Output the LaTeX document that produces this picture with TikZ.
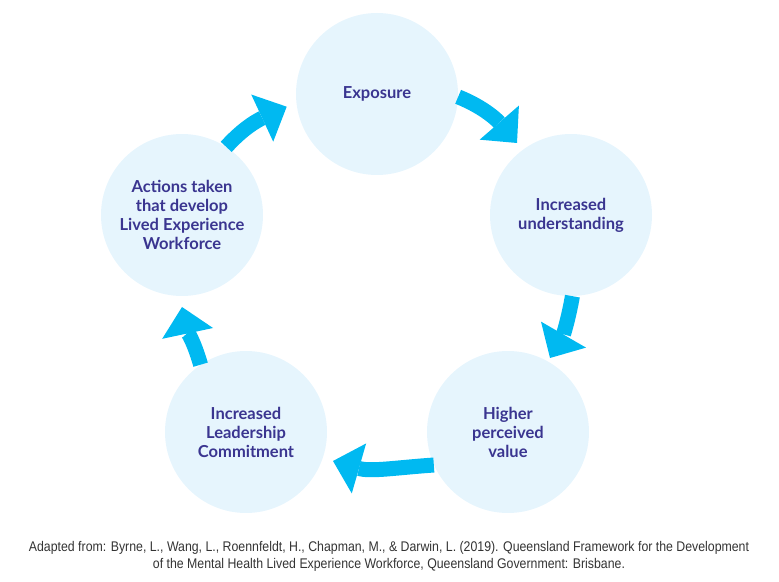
\documentclass[tikz,border=0pt]{standalone}
\usepackage{fontspec}
\setmainfont{Lato}
\newfontfamily\capfont{Liberation Sans}[FakeStretch=0.88]
\usetikzlibrary{arrows.meta}
\definecolor{cyanarrow}{HTML}{00B9F1}
\definecolor{circfill}{HTML}{E6F5FD}
\definecolor{txtcol}{HTML}{3A3590}
\definecolor{capcol}{HTML}{333333}
\begin{document}
\begin{tikzpicture}[x=1pt,y=1pt,
  stage/.style={circle, fill=circfill, minimum size=162pt, inner sep=0pt, align=center, text=txtcol, font=\fontsize{16.5}{19}\selectfont\bfseries},
  cyc/.style={line width=15pt, draw=cyanarrow, -{Triangle[length=27pt,width=52pt,line width=0pt]}}]
\useasboundingbox (0,0) rectangle (779,581);
\node[stage] (E) at (377,487) {Exposure};
\node[stage] (U) at (571,366) {Increased\\understanding};
\node[stage] (H) at (508,149) {Higher\\perceived\\value};
\node[stage] (L) at (246,149) {Increased\\Leadership\\Commitment};
\node[stage] (A) at (182,366) {Actions taken\\that develop\\Lived Experience\\Workforce};
\coordinate (t1) at (517,438);
\coordinate (t2) at (550,223);
\coordinate (t3) at (333,120);
\coordinate (t4) at (182,274);
\coordinate (t5) at (286.7,474.3);
\draw[cyc] (E.-2) to[out=-22,in=131] (t1);
\draw[cyc] (U.-89) to[out=-100,in=60] (t2);
\draw[cyc] (H.204) to[out=184,in=-16] (t3);
\draw[cyc] (L.124) to[out=106,in=-78] (t4);
\draw[cyc] (A.57) to[out=48,in=205] (t5);
\node[font=\capfont\fontsize{14}{17}\selectfont, text=capcol, align=center] (cap) at (389,24.5)
 {Adapted from: Byrne, L., Wang, L., Roennfeldt, H., Chapman, M., \& Darwin, L. (2019). Queensland Framework for the Development\\of the Mental Health Lived Experience Workforce, Queensland Government: Brisbane.};
\end{tikzpicture}
\end{document}
